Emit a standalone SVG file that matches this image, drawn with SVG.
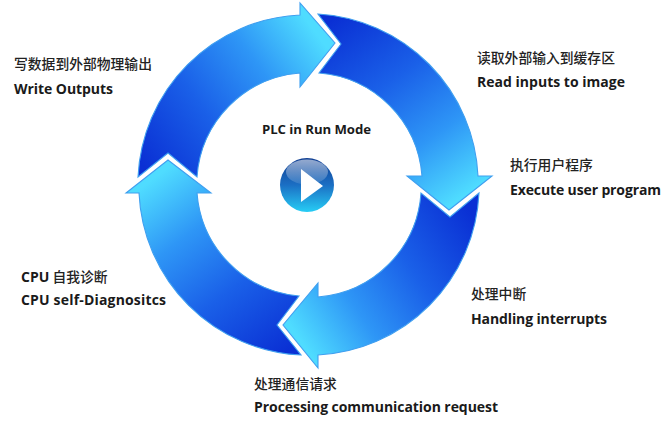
<svg xmlns="http://www.w3.org/2000/svg" width="664" height="423" viewBox="0 0 664 423">
<style>
.en{font-family:"Open Sans","Liberation Sans",sans-serif;font-weight:700;font-size:14px;fill:#1a1a1a}
.zh{font-family:"Noto Sans CJK SC",sans-serif;font-weight:500;font-size:13.8px;fill:#222}
.arc{stroke:#3f9ff0;stroke-width:1.1;stroke-linejoin:miter}
</style>
<defs>
<linearGradient id="ramp"><stop offset="0" stop-color="#0a30d4"/><stop offset=".38" stop-color="#1a60e8"/><stop offset=".7" stop-color="#2e96f6"/><stop offset="1" stop-color="#4fdcff"/></linearGradient>
<linearGradient id="g1" href="#ramp" gradientUnits="userSpaceOnUse" x1="150" y1="175" x2="325" y2="45"/>
<linearGradient id="g2" href="#ramp" gradientUnits="userSpaceOnUse" x1="325" y1="25" x2="450" y2="205"/>
<linearGradient id="g3" href="#ramp" gradientUnits="userSpaceOnUse" x1="465" y1="205" x2="290" y2="325"/>
<linearGradient id="g4" href="#ramp" gradientUnits="userSpaceOnUse" x1="295" y1="345" x2="165" y2="170"/>
<linearGradient id="ball" x1="0" y1="0" x2="0" y2="1"><stop offset="0" stop-color="#123f92"/><stop offset=".5" stop-color="#1b6fc4"/><stop offset="1" stop-color="#27cdf5"/></linearGradient>
<linearGradient id="gloss" x1="0" y1="0" x2="0" y2="1"><stop offset="0" stop-color="#fff" stop-opacity=".55"/><stop offset="1" stop-color="#fff" stop-opacity=".1"/></linearGradient>
</defs>
<rect width="664" height="423" fill="#fff"/>
<g id="connectors">
<path id="arrow-write" class="arc" fill="url(#g1)" d="M138 177A170 170 0 0 1 300 15V3L335 43L300 87V73A112 112 0 0 0 197 177L168 153Z"/>
<path id="arrow-read" class="arc" fill="url(#g2)" d="M318 14A170 170 0 0 1 478 176H492L449 210L407 176H422A112 112 0 0 0 319 73L341 44Z"/>
<path id="arrow-exec" class="arc" fill="url(#g3)" d="M479 193A170 170 0 0 1 318 355V368L283 325L318 283V297A112 112 0 0 0 421 193L450 217Z"/>
<path id="arrow-comm" class="arc" fill="url(#g4)" d="M301 355A170 170 0 0 1 139 193H126L168 160L211 193H197A112 112 0 0 0 299 296L277 325Z"/>
</g>
<g id="center">
<text class="en" x="262" y="134" font-size="13" style="font-size:13.2px" textLength="109">PLC in Run Mode</text>
<circle cx="307" cy="185" r="27" fill="url(#ball)"/>
<ellipse cx="307" cy="172" rx="21" ry="12.5" fill="url(#gloss)"/>
<path d="M301 169L323 186L301 202Z" fill="#fff"/>
</g>
<g id="node-write"><text class="zh" x="14" y="69">写数据到外部物理输出</text><text class="en" x="14" y="94" textLength="99">Write Outputs</text></g>
<g id="node-read"><text class="zh" x="477" y="63">读取外部输入到缓存区</text><text class="en" x="477" y="87" textLength="148">Read inputs to image</text></g>
<g id="node-exec"><text class="zh" x="510" y="170">执行用户程序</text><text class="en" x="510" y="195" textLength="151">Execute user program</text></g>
<g id="node-int"><text class="zh" x="471" y="299">处理中断</text><text class="en" x="471" y="324" textLength="136">Handling interrupts</text></g>
<g id="node-comm"><text class="zh" x="254" y="389">处理通信请求</text><text class="en" x="254" y="412" textLength="244">Processing communication request</text></g>
<g id="node-diag"><text class="zh" x="21" y="282"><tspan class="en">CPU</tspan> 自我诊断</text><text class="en" x="21" y="305" textLength="145">CPU self-Diagnositcs</text></g>
</svg>
